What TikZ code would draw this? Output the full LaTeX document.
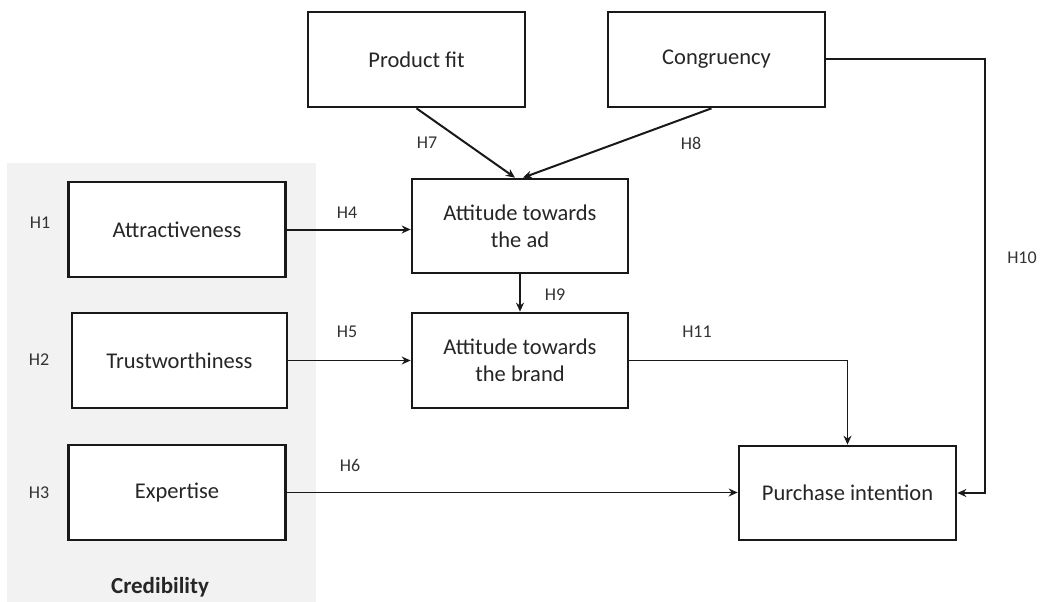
\documentclass[tikz,border=0pt]{standalone}
\usepackage{fontspec}
\setmainfont{Carlito}
\usetikzlibrary{arrows.meta}
\begin{document}
\begin{tikzpicture}[x=1pt,y=-1pt,
  box/.style={draw=black!90,line width=2.7pt,fill=white,minimum width=217pt,minimum height=95pt,inner sep=0pt,align=center,font=\fontsize{22.5}{27}\selectfont,text=black!85},
  hlab/.style={font=\fontsize{18}{22}\selectfont,text=black!80,inner sep=0pt},
  conn/.style={draw=black!90,line width=2pt,-{Stealth[length=9pt,width=8pt]}},
  thin/.style={draw=black!90,line width=1.5pt,-{Stealth[length=9pt,width=8pt]}}]
\useasboundingbox (0,0) rectangle (1041,602);
\fill[black!5] (7,163) rectangle (316,602);
\node[box] (pf) at (416.5,59.5) {Product fit};
\node[box] (cg) at (716.5,59.5) {Congruency};
\node[box] (at) at (177,229.5) {Attractiveness};
\node[box,minimum width=215pt] (tw) at (179.5,360.5) {Trustworthiness};
\node[box] (ex) at (177,492.5) {Expertise};
\node[box,minimum width=216pt,minimum height=94pt] (ad) at (520,226) {Attitude towards\\the ad};
\node[box,minimum width=216pt] (br) at (520,360.5) {Attitude towards\\the brand};
\node[box,minimum height=94pt] (pi) at (847.5,493) {Purchase intention};
\node[font=\fontsize{23}{27}\selectfont\bfseries,text=black!85,inner sep=0pt] (cred) at (160,587) {Credibility};
\node[hlab] (h1) at (40,223) {H1};
\node[hlab] (h2) at (39,360) {H2};
\node[hlab] (h3) at (39,493) {H3};
\node[hlab] (h4) at (347,213) {H4};
\node[hlab] (h5) at (347,332) {H5};
\node[hlab] (h6) at (350,465) {H6};
\node[hlab] (h7) at (427,143) {H7};
\node[hlab] (h8) at (691,143) {H8};
\node[hlab] (h9) at (555,295) {H9};
\node[hlab] (h10) at (1022,258) {H10};
\node[hlab] (h11) at (697,332) {H11};
\coordinate (c10) at (985,59.5);
\draw[conn] (pf.south) -- ([xshift=-5pt]ad.north);
\draw[conn] ([xshift=-5pt]cg.south) -- ([xshift=3pt]ad.north);
\draw[conn] (at.east) -- (at.east -| ad.west);
\draw[thin] (tw.east) -- (br.west);
\draw[conn] (ad.south) -- (br.north);
\draw[thin] (br.east) -| (pi.north);
\draw[thin] (ex.east) -- (ex.east -| pi.west);
\draw[conn] (cg.east) -- (c10) |- (pi.east);
\end{tikzpicture}
\end{document}
